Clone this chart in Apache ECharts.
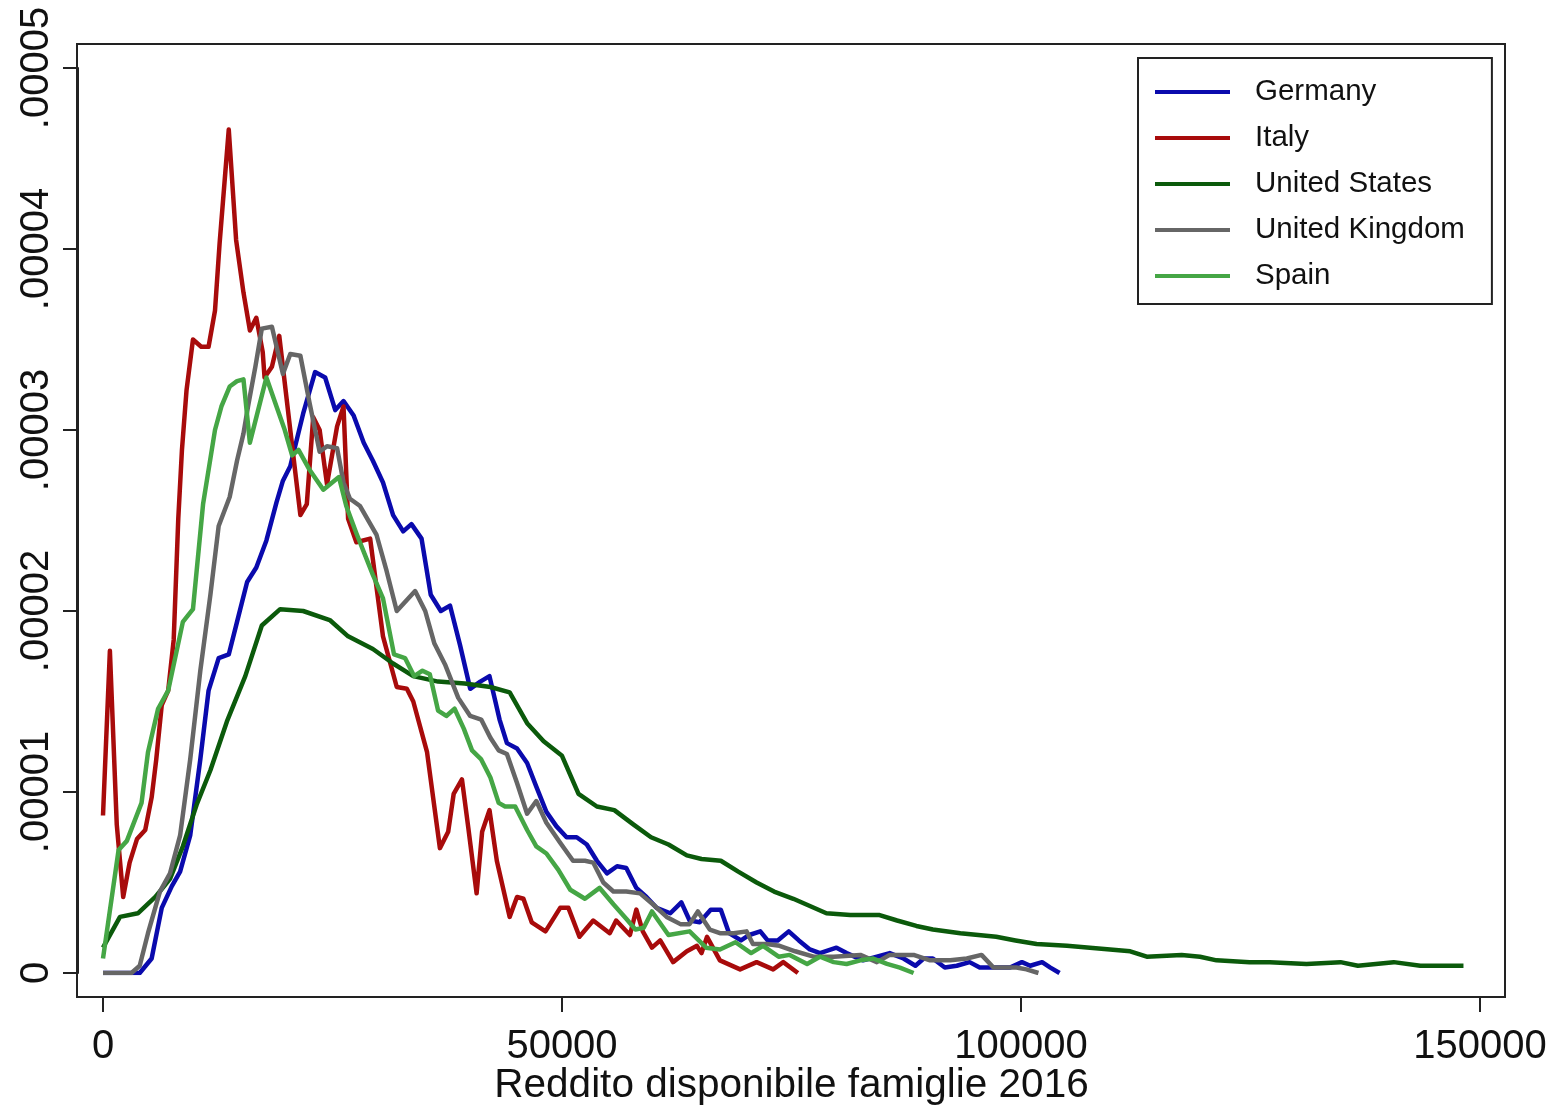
<!DOCTYPE html>
<html>
<head>
<meta charset="utf-8">
<script src="https://cdn.jsdelivr.net/npm/echarts@6/dist/echarts.min.js"></script>
<style>
html,body{margin:0;padding:0;background:#fff;}
#chart{width:1564px;height:1108px;}
</style>
</head>
<body>
<div id="chart"></div>
<script>
// ---- Data (income, density) ----
const seriesNames = ['Germany', 'Italy', 'United States', 'United Kingdom', 'Spain'];
const xTickValues = [0, 50000, 100000, 150000];
const xTickLabels = ['0', '50000', '100000', '150000'];
const yTickLabels = ['0', '.00001', '.00002', '.00003', '.00004', '.00005'];
const xTitle = 'Reddito disponibile famiglie 2016';

const germany = [[0,0],[4000,0],[5300,0.8e-6],[6400,3.6e-6],[7500,4.8e-6],[8400,5.6e-6],[9500,7.6e-6],[10600,11.8e-6],[11500,15.6e-6],[12600,17.4e-6],[13700,17.6e-6],[14600,19.4e-6],[15700,21.6e-6],[16700,22.4e-6],[17800,23.9e-6],[18900,26.0e-6],[19600,27.2e-6],[20400,28.0e-6],[21800,30.9e-6],[23100,33.2e-6],[24200,32.9e-6],[25300,31.1e-6],[26200,31.6e-6],[27300,30.8e-6],[28400,29.3e-6],[29400,28.3e-6],[30500,27.1e-6],[31600,25.3e-6],[32700,24.4e-6],[33600,24.8e-6],[34700,24.0e-6],[35700,20.9e-6],[36800,20.0e-6],[37800,20.3e-6],[38900,18.1e-6],[40000,15.7e-6],[41100,16.1e-6],[42100,16.4e-6],[42700,15.1e-6],[43200,14.0e-6],[44000,12.7e-6],[45100,12.4e-6],[46200,11.6e-6],[47200,10.3e-6],[48300,8.9e-6],[49400,8.1e-6],[50500,7.5e-6],[51600,7.5e-6],[52700,7.1e-6],[53800,6.2e-6],[54900,5.5e-6],[56000,5.9e-6],[57000,5.8e-6],[58100,4.7e-6],[59200,4.2e-6],[60300,3.6e-6],[61800,3.3e-6],[63000,3.9e-6],[63900,2.9e-6],[65000,2.8e-6],[66200,3.5e-6],[67300,3.5e-6],[68200,2.2e-6],[69500,1.8e-6],[70400,2.1e-6],[71600,2.3e-6],[72400,1.8e-6],[73500,1.8e-6],[74700,2.3e-6],[75800,1.8e-6],[77000,1.3e-6],[78100,1.1e-6],[79900,1.4e-6],[81000,1.1e-6],[82800,0.7e-6],[84300,0.9e-6],[85700,1.1e-6],[87200,0.8e-6],[88500,0.4e-6],[89400,0.8e-6],[90400,0.8e-6],[91700,0.3e-6],[93000,0.4e-6],[94400,0.6e-6],[95500,0.3e-6],[97400,0.3e-6],[98800,0.3e-6],[100100,0.6e-6],[101000,0.4e-6],[102300,0.6e-6],[103200,0.3e-6],[104200,0]];

const italy = [[0,8.7e-6],[750,17.8e-6],[1500,8.2e-6],[2200,4.2e-6],[2900,6.1e-6],[3700,7.4e-6],[4600,7.9e-6],[5300,9.7e-6],[5800,11.8e-6],[6400,14.8e-6],[7100,15.6e-6],[7700,18.4e-6],[8200,25.1e-6],[8600,28.9e-6],[9100,32.2e-6],[9800,35.0e-6],[10700,34.6e-6],[11500,34.6e-6],[12200,36.6e-6],[12700,40.3e-6],[13700,46.6e-6],[14500,40.5e-6],[15300,37.6e-6],[16000,35.5e-6],[16700,36.2e-6],[17400,34.3e-6],[17600,32.9e-6],[18400,33.5e-6],[19200,35.2e-6],[20400,30.0e-6],[21500,25.3e-6],[22200,25.9e-6],[22900,30.7e-6],[23600,30.0e-6],[24400,27.0e-6],[25500,30.2e-6],[26200,31.3e-6],[26700,25.1e-6],[27600,23.8e-6],[29100,24.0e-6],[30500,18.6e-6],[32000,15.8e-6],[33100,15.7e-6],[33800,15.0e-6],[35300,12.2e-6],[36700,6.9e-6],[37600,7.8e-6],[38200,9.9e-6],[39100,10.7e-6],[39800,8.0e-6],[40700,4.4e-6],[41300,7.8e-6],[42100,9.0e-6],[42900,6.2e-6],[44300,3.1e-6],[45100,4.2e-6],[45800,4.1e-6],[46700,2.8e-6],[48200,2.3e-6],[49800,3.6e-6],[50700,3.6e-6],[51900,2.0e-6],[53400,2.9e-6],[55200,2.2e-6],[55900,2.9e-6],[57400,2.1e-6],[58100,3.5e-6],[58800,2.3e-6],[59800,1.4e-6],[60700,1.8e-6],[62100,0.6e-6],[63600,1.2e-6],[64700,1.5e-6],[65200,1.1e-6],[65800,2.0e-6],[67200,0.7e-6],[69400,0.2e-6],[71200,0.6e-6],[73000,0.2e-6],[74100,0.6e-6],[75700,0]];

const unitedStates = [[0,1.4e-6],[1850,3.1e-6],[3800,3.3e-6],[5700,4.2e-6],[7300,5.2e-6],[8700,7.0e-6],[10200,9.3e-6],[11700,11.2e-6],[13500,13.9e-6],[15500,16.4e-6],[17300,19.2e-6],[19300,20.1e-6],[21800,20.0e-6],[24700,19.5e-6],[26700,18.6e-6],[29400,17.9e-6],[31600,17.1e-6],[33800,16.4e-6],[36500,16.1e-6],[39400,16.0e-6],[42200,15.8e-6],[44300,15.5e-6],[46200,13.8e-6],[48000,12.8e-6],[50000,12.0e-6],[51800,9.9e-6],[53800,9.2e-6],[55700,9.0e-6],[57800,8.2e-6],[59700,7.5e-6],[61600,7.1e-6],[63600,6.5e-6],[65200,6.3e-6],[67300,6.2e-6],[69200,5.6e-6],[71200,5.0e-6],[73100,4.5e-6],[75200,4.1e-6],[77000,3.7e-6],[78800,3.3e-6],[81400,3.2e-6],[84600,3.2e-6],[86500,2.9e-6],[88600,2.6e-6],[90400,2.4e-6],[93400,2.2e-6],[97300,2.0e-6],[99400,1.8e-6],[101700,1.6e-6],[105000,1.5e-6],[109700,1.3e-6],[111900,1.2e-6],[113700,0.9e-6],[117500,1.0e-6],[119500,0.9e-6],[121300,0.7e-6],[124900,0.6e-6],[127100,0.6e-6],[131100,0.5e-6],[134800,0.6e-6],[136700,0.4e-6],[140600,0.6e-6],[143500,0.4e-6],[146400,0.4e-6],[148200,0.4e-6]];

const unitedKingdom = [[0,0],[3100,0],[4000,0.4e-6],[4900,2.2e-6],[6200,4.5e-6],[7300,5.5e-6],[8400,7.6e-6],[9500,11.8e-6],[10600,16.7e-6],[11700,20.9e-6],[12600,24.7e-6],[13800,26.3e-6],[14600,28.3e-6],[15300,29.8e-6],[15800,31.3e-6],[16600,33.5e-6],[17300,35.6e-6],[18400,35.7e-6],[19600,33.1e-6],[20400,34.2e-6],[21500,34.1e-6],[22500,31.5e-6],[23600,28.8e-6],[24400,29.1e-6],[25500,29.0e-6],[26200,27.1e-6],[26900,26.2e-6],[28000,25.8e-6],[29800,24.2e-6],[30900,22.2e-6],[32000,20.0e-6],[34000,21.1e-6],[35100,20.0e-6],[36100,18.2e-6],[37300,17.0e-6],[38700,15.2e-6],[40000,14.2e-6],[41200,14.0e-6],[42200,13.0e-6],[43100,12.3e-6],[44000,12.1e-6],[45100,10.5e-6],[46200,8.8e-6],[47200,9.5e-6],[48300,8.3e-6],[49800,7.2e-6],[51200,6.2e-6],[52500,6.2e-6],[53400,6.1e-6],[54500,5.0e-6],[55600,4.5e-6],[57000,4.5e-6],[58500,4.4e-6],[59900,3.8e-6],[61400,3.1e-6],[62900,2.7e-6],[63900,2.7e-6],[64800,3.4e-6],[66100,2.4e-6],[67200,2.2e-6],[68700,2.2e-6],[70100,2.3e-6],[70800,1.6e-6],[72300,1.6e-6],[73700,1.5e-6],[75400,1.2e-6],[77400,0.9e-6],[79600,0.9e-6],[82500,1.0e-6],[84300,0.6e-6],[85700,1.0e-6],[88300,1.0e-6],[90100,0.7e-6],[92300,0.7e-6],[94100,0.8e-6],[95700,1.0e-6],[97000,0.3e-6],[99500,0.3e-6],[100600,0.2e-6],[101900,0]];

const spain = [[0,0.8e-6],[1700,6.8e-6],[2600,7.3e-6],[4200,9.4e-6],[4900,12.2e-6],[6000,14.6e-6],[7100,15.6e-6],[8700,19.4e-6],[9800,20.1e-6],[10900,25.9e-6],[12200,30.0e-6],[12900,31.3e-6],[13800,32.4e-6],[14600,32.7e-6],[15300,32.8e-6],[16000,29.3e-6],[16900,31.1e-6],[17800,32.9e-6],[18900,31.3e-6],[19800,30.0e-6],[20600,28.6e-6],[21300,28.9e-6],[22500,27.8e-6],[24000,26.7e-6],[25700,27.4e-6],[26500,25.8e-6],[27600,24.3e-6],[29400,22.0e-6],[30500,20.7e-6],[31700,17.6e-6],[32900,17.4e-6],[33900,16.4e-6],[34800,16.7e-6],[35600,16.5e-6],[36500,14.5e-6],[37400,14.2e-6],[38300,14.6e-6],[39300,13.5e-6],[40200,12.3e-6],[41200,11.8e-6],[42200,10.8e-6],[43100,9.4e-6],[43800,9.2e-6],[44900,9.2e-6],[46200,7.9e-6],[47200,7.0e-6],[48300,6.6e-6],[49600,5.7e-6],[50900,4.6e-6],[52500,4.1e-6],[54100,4.7e-6],[55600,3.8e-6],[57000,3.0e-6],[58000,2.4e-6],[58900,2.5e-6],[59800,3.4e-6],[61600,2.1e-6],[63900,2.3e-6],[65700,1.4e-6],[67200,1.3e-6],[68900,1.7e-6],[70600,1.1e-6],[71900,1.5e-6],[73600,0.9e-6],[74800,1.0e-6],[76700,0.5e-6],[78100,0.9e-6],[79600,0.6e-6],[81000,0.5e-6],[82500,0.7e-6],[83900,0.8e-6],[85400,0.5e-6],[86800,0.3e-6],[88300,0]];

const seriesData = [germany, italy, unitedStates, unitedKingdom, spain];
const seriesColors = ['#0a0aad', '#a80b0b', '#0b5a0b', '#666666', '#45a645'];

// ---- Chart ----
const FONT = '"Liberation Sans", Arial, Helvetica, sans-serif';
const chart = echarts.init(document.getElementById('chart'), null, {renderer: 'canvas'});

const axisLineStyle = {color: '#222', width: 2};

const option = {
  animation: false,
  backgroundColor: '#ffffff',
  textStyle: {fontFamily: FONT},
  grid: [
    {left: 77, top: 44, width: 1428, height: 953, show: true, borderColor: '#222', borderWidth: 2, backgroundColor: '#fff', containLabel: false, outerBoundsMode: 'none'},
    {left: 103, top: 68, width: 1377, height: 905, containLabel: false, outerBoundsMode: 'none'}
  ],
  xAxis: [
    {gridIndex: 0, type: 'value', show: false, min: 0, max: 1},
    {
      gridIndex: 1, type: 'value', min: 0, max: 150000, interval: 50000,
      position: 'bottom',
      offset: 24,
      axisLine: {show: true, onZero: false, lineStyle: axisLineStyle},
      axisTick: {show: true, length: 15, lineStyle: axisLineStyle},
      splitLine: {show: false},
      axisLabel: {
        margin: 30, fontSize: 40, color: '#111', fontFamily: FONT,
        formatter: function (v) { const i = xTickValues.indexOf(v); return i >= 0 ? xTickLabels[i] : ''; }
      },
      name: xTitle, nameLocation: 'middle', nameGap: 68, nameMoveOverlap: false,
      nameTextStyle: {fontSize: 40.5, color: '#111', fontFamily: FONT}
    }
  ],
  yAxis: [
    {gridIndex: 0, type: 'value', show: false, min: 0, max: 1},
    {
      gridIndex: 1, type: 'value', min: 0, max: 0.00005, interval: 0.00001,
      position: 'left',
      offset: 25,
      axisLine: {show: true, onZero: false, lineStyle: axisLineStyle},
      axisTick: {show: true, length: 15, lineStyle: axisLineStyle},
      splitLine: {show: false},
      axisLabel: {
        margin: 21, rotate: 90, fontSize: 40, color: '#111', fontFamily: FONT,
        formatter: function (v) { return yTickLabels[Math.round(v / 0.00001)] || ''; }
      }
    }
  ],
  legend: {
    orient: 'vertical',
    left: 1138, top: 58,
    data: seriesNames,
    icon: 'rect',
    itemWidth: 75, itemHeight: 4,
    itemGap: 16,
    padding: [19, 27, 13, 17],
    backgroundColor: '#fff',
    borderColor: '#222', borderWidth: 2,
    textStyle: {fontSize: 29.5, lineHeight: 30, color: '#111', fontFamily: FONT, padding: [0, 0, 0, 20]}
  },
  series: seriesNames.map(function (name, i) {
    return {
      name: name, type: 'line', xAxisIndex: 1, yAxisIndex: 1,
      data: seriesData[i], showSymbol: false, symbol: 'none', smooth: false,
      lineStyle: {color: seriesColors[i], width: 4.5, join: 'round'},
      itemStyle: {color: seriesColors[i]},
      emphasis: {disabled: true}
    };
  })
};
chart.setOption(option);
</script>
</body>
</html>
